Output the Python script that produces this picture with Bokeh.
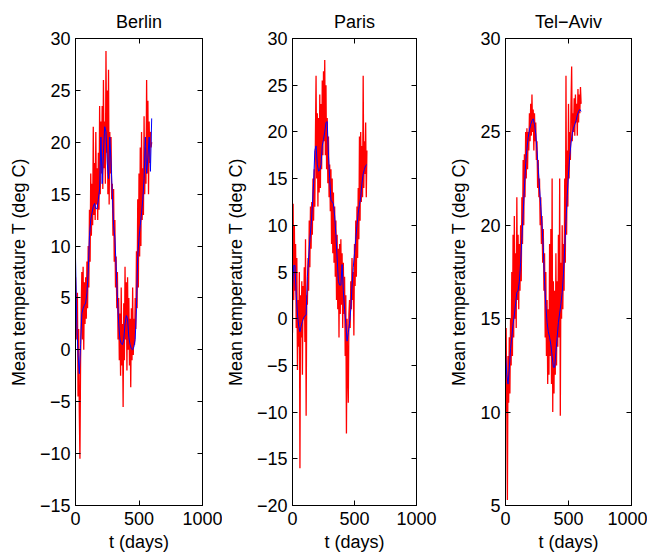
from bokeh.plotting import figure
from bokeh.layouts import row
from bokeh.models import LinearAxis, FixedTicker, Range1d, CustomLabelingPolicy
from bokeh.embed import file_html
from bokeh.resources import INLINE

# ---------------- data ----------------
cities = ["Berlin", "Paris", "Tel\u2212Aviv"]

days = list(range(0, 605, 5))          # daily record, sampled every 5 days
days_smooth = list(range(0, 605, 10))  # smoothed curve

berlin_daily = [
    7.0, 4.5, 1.0, 5.5, -4.5, 2.0, -6.0, -10.5, -1.0, 4.0,
    7.5, 1.0, 8.0, 0.0, 6.5, 2.5, 7.0, 3.0, 8.5, 4.0,
    10.0, 6.0, 13.5, 8.5, 17.0, 11.0, 16.0, 12.0, 21.5, 13.0,
    18.0, 12.5, 21.0, 14.0, 17.5, 12.5, 19.0, 13.5, 23.5, 15.0,
    22.0, 17.0, 23.5, 15.5, 26.0, 17.5, 22.0, 16.0, 28.8, 19.0,
    25.0, 15.0, 27.0, 14.0, 21.0, 17.0, 20.5, 14.5, 16.0, 11.0,
    15.5, 8.5, 12.5, 6.0, 9.0, 4.0, 7.5, 1.0, 5.0, -1.0,
    3.5, -2.5, 6.0, -1.5, 2.5, -5.5, 4.5, -1.0, 8.0, 1.0,
    6.5, -2.0, 7.0, 0.0, 5.0, -1.5, 3.0, -3.6, 4.0, -1.0,
    6.0, -0.5, 3.0, 0.5, 5.0, 2.0, 9.5, 4.0, 14.5, 6.0,
    17.0, 9.0, 19.5, 10.0, 21.0, 12.5, 17.5, 13.0, 22.5, 15.0,
    19.5, 16.0, 26.0, 17.0, 24.0, 15.0, 22.0, 18.0, 21.0, 19.5,
    20.0,
]
berlin_smooth = [
    8.9, 2.5, -0.5, -2.3, 0.5, 3.5, 4.0, 4.3, 4.5, 5.5,
    7.5, 11.0, 12.5, 13.2, 13.8, 14.1, 13.6, 13.6, 14.5, 15.5,
    20.5, 16.0, 19.0, 21.5, 21.0, 18.0, 16.5, 20.5, 18.0, 15.0,
    12.0, 10.8, 8.0, 5.0, 2.5, 1.0, 0.6, 0.5, 1.0, 2.5,
    3.3, 3.0, 1.2, 0.5, 0.1, 0.0, 0.3, 1.0, 4.0, 9.0,
    10.8, 12.0, 13.2, 14.5, 16.5, 20.5, 17.0, 18.5, 20.5, 17.2,
    22.3,
]

paris_daily = [
    -1.5, 12.3, 2.0, 10.0, 3.0, 8.0, -1.0, 6.5, -5.5, 2.0,
    -3.0, 5.0, -16.0, 2.5, -2.0, 4.0, -6.0, 3.5, 0.0, 5.5,
    -2.5, 8.5, -10.4, 2.5, 1.5, 6.5, 3.0, 10.5, 5.5, 12.0,
    7.5, 12.5, 9.0, 15.0, 10.5, 16.0, 12.0, 19.5, 26.0, 15.0,
    22.0, 12.0, 21.5, 13.5, 24.0, 14.0, 23.0, 16.0, 25.5, 17.5,
    26.5, 19.0, 27.7, 17.5, 25.0, 16.0, 21.5, 14.5, 19.5, 13.0,
    16.5, 11.5, 16.0, 8.0, 15.0, 7.0, 13.5, 6.0, 12.0, 4.5,
    10.5, 2.0, 9.0, 1.0, 7.5, -2.0, 8.0, 0.5, 8.5, 1.5,
    7.0, -1.0, 6.0, 0.5, 4.5, -4.0, 2.5, -12.3, 0.0, -5.5,
    -9.0, 0.5, 2.0, -1.0, 4.0, 1.0, 6.5, 2.0, 5.0, -1.8,
    8.0, 3.5, 10.5, 4.5, 12.0, 6.5, 14.0, 8.5, 19.5, 10.5,
    20.0, 12.5, 18.5, 13.0, 26.0, 14.0, 19.0, 15.5, 21.0, 13.0,
    18.0,
]
paris_smooth = [
    3.1, 5.7, 5.7, 2.5, 0.5, -0.8, -1.4, -0.8, -0.3, 0.1,
    0.3, 0.4, 4.5, 6.5, 8.5, 10.0, 12.0, 14.5, 18.0, 18.5,
    16.5, 15.8, 15.9, 16.5, 18.5, 19.2, 20.0, 21.0, 21.1, 17.5,
    15.0, 12.7, 12.5, 12.3, 11.0, 9.0, 6.5, 4.0, 3.6, 3.6,
    5.8, 3.0, 1.0, -0.5, -2.4, -1.5, -0.5, 1.0, 3.5, 5.5,
    7.0, 8.5, 10.0, 11.3, 12.2, 13.0, 14.5, 15.5, 16.0, 16.4,
    16.5,
]

telaviv_daily = [
    10.0, 14.5, 10.5, 5.3, 13.0, 10.5, 14.0, 11.0, 15.0, 12.5,
    17.5, 13.0, 19.5, 14.0, 20.5, 15.0, 18.5, 14.5, 21.5, 16.0,
    19.5, 15.5, 19.0, 16.5, 20.0, 17.0, 21.5, 19.0, 23.5, 20.0,
    23.8, 21.5, 25.0, 22.5, 25.2, 23.0, 25.0, 24.0, 26.0, 24.5,
    26.5, 24.8, 27.0, 25.0, 26.2, 24.0, 26.0, 24.5, 25.5, 23.5,
    24.5, 22.0, 23.5, 21.5, 22.5, 20.0, 21.5, 19.0, 20.5, 18.0,
    19.8, 16.5, 18.5, 14.0, 17.5, 13.0, 16.0, 11.5, 15.5, 12.0,
    19.0, 13.0, 19.8, 11.5, 22.5, 10.0, 17.0, 11.0, 16.5, 12.0,
    18.5, 12.5, 17.0, 13.5, 19.5, 14.0, 22.5, 9.8, 18.0, 15.0,
    20.0, 15.5, 19.0, 16.5, 22.5, 18.0, 28.0, 19.5, 24.0, 21.0,
    26.5, 22.5, 25.0, 23.5, 26.5, 28.5, 24.5, 26.0, 25.0, 26.8,
    24.8, 27.0, 25.5, 26.5, 24.8, 27.3, 25.5, 27.0, 26.0, 27.4,
    26.5,
]
telaviv_smooth = [
    13.1, 12.0, 11.5, 12.3, 13.4, 14.0, 14.7, 15.2, 15.8, 16.4,
    16.5, 17.0, 18.0, 19.3, 20.6, 22.0, 23.3, 24.1, 24.7, 25.1,
    25.4, 25.6, 25.7, 25.4, 24.9, 24.0, 23.0, 22.0, 21.0, 20.0,
    18.8, 17.0, 15.7, 14.8, 14.3, 14.0, 13.6, 13.0, 12.4, 12.4,
    13.2, 14.0, 14.8, 15.3, 15.8, 16.4, 17.4, 18.8, 20.2, 21.6,
    22.8, 23.7, 24.4, 24.9, 25.2, 25.4, 25.6, 25.9, 26.1, 26.2,
    26.1,
]

x_ticks = [0, 500, 1000]
x_tick_labels = ["0", "500", "1000"]
berlin_y_ticks = [-15, -10, -5, 0, 5, 10, 15, 20, 25, 30]
paris_y_ticks = [-20, -15, -10, -5, 0, 5, 10, 15, 20, 25, 30]
telaviv_y_ticks = [5, 10, 15, 20, 25, 30]

x_label = "t (days)"
y_label = "Mean temperature T (deg C)"

# ---------------- styling / layout ----------------
FONT = "Liberation Sans"
FS = "18px"
TOP = 38
BOTTOM = 48
FRAME_H = 468
H = TOP + FRAME_H + BOTTOM

NO_LABELS = """
try {
    const empty = new indices.constructor(indices.size, 0);
    return empty;
} catch (e) {
    return indices;
}
"""


def tick_label(v):
    return str(v).replace("-", "\u2212")


def make_panel(title, daily, smooth, y_ticks, width, border_left, border_right):
    p = figure(
        width=width, height=H,
        x_range=Range1d(x_ticks[0], x_ticks[-1]),
        y_range=Range1d(y_ticks[0], y_ticks[-1]),
        output_backend="svg", toolbar_location=None,
        x_axis_location=None, y_axis_location=None,
        min_border_left=border_left, min_border_right=border_right,
        min_border_top=TOP, min_border_bottom=BOTTOM,
        background_fill_color="white", border_fill_color="white",
        outline_line_color="black", outline_line_width=1,
    )
    p.title.text = title
    p.title.align = "center"
    p.title.text_font = FONT
    p.title.text_font_size = FS
    p.title.text_font_style = "normal"
    p.title.text_color = "black"
    p.title.standoff = 13

    yt = FixedTicker(ticks=y_ticks)
    xt = FixedTicker(ticks=x_ticks)

    left = LinearAxis(ticker=yt, axis_label=y_label)
    left.major_label_overrides = {v: tick_label(v) for v in y_ticks}
    bottom = LinearAxis(ticker=xt, axis_label=x_label)
    bottom.major_label_overrides = dict(zip(x_ticks, x_tick_labels))
    right = LinearAxis(ticker=yt)
    top = LinearAxis(ticker=xt)

    for ax in (left, bottom, right, top):
        ax.axis_line_color = "black"
        ax.major_tick_line_color = "black"
        ax.major_tick_in = 5
        ax.major_tick_out = 0
        ax.minor_tick_line_color = None
        ax.major_label_text_font = FONT
        ax.major_label_text_font_size = FS
        ax.major_label_text_color = "black"
        ax.axis_label_text_font = FONT
        ax.axis_label_text_font_size = FS
        ax.axis_label_text_font_style = "normal"
        ax.axis_label_text_color = "black"

    left.major_label_standoff = 5
    left.axis_label_standoff = 8
    bottom.major_label_standoff = 6
    bottom.axis_label_standoff = 4
    for ax in (right, top):
        # mirror axes: tick marks only, no labels
        ax.major_label_policy = CustomLabelingPolicy(code=NO_LABELS)
        ax.major_label_text_font_size = "0px"
        ax.major_label_standoff = 0

    p.add_layout(left, "left")
    p.add_layout(bottom, "below")
    p.add_layout(right, "right")
    p.add_layout(top, "above")

    p.xgrid.visible = False
    p.ygrid.visible = False

    p.line(days, daily, line_color="#ff0000", line_width=1.3)
    p.line(days_smooth, smooth, line_color="#0000ff", line_width=1)
    return p


p1 = make_panel(cities[0], berlin_daily, berlin_smooth, berlin_y_ticks, 222, 75, 20)
p2 = make_panel(cities[1], paris_daily, paris_smooth, paris_y_ticks, 215, 68, 21)
p3 = make_panel(cities[2], telaviv_daily, telaviv_smooth, telaviv_y_ticks, 210, 68, 16)

layout = row(p1, p2, p3, spacing=0)

open("out.html", "w").write(file_html(layout, INLINE))
